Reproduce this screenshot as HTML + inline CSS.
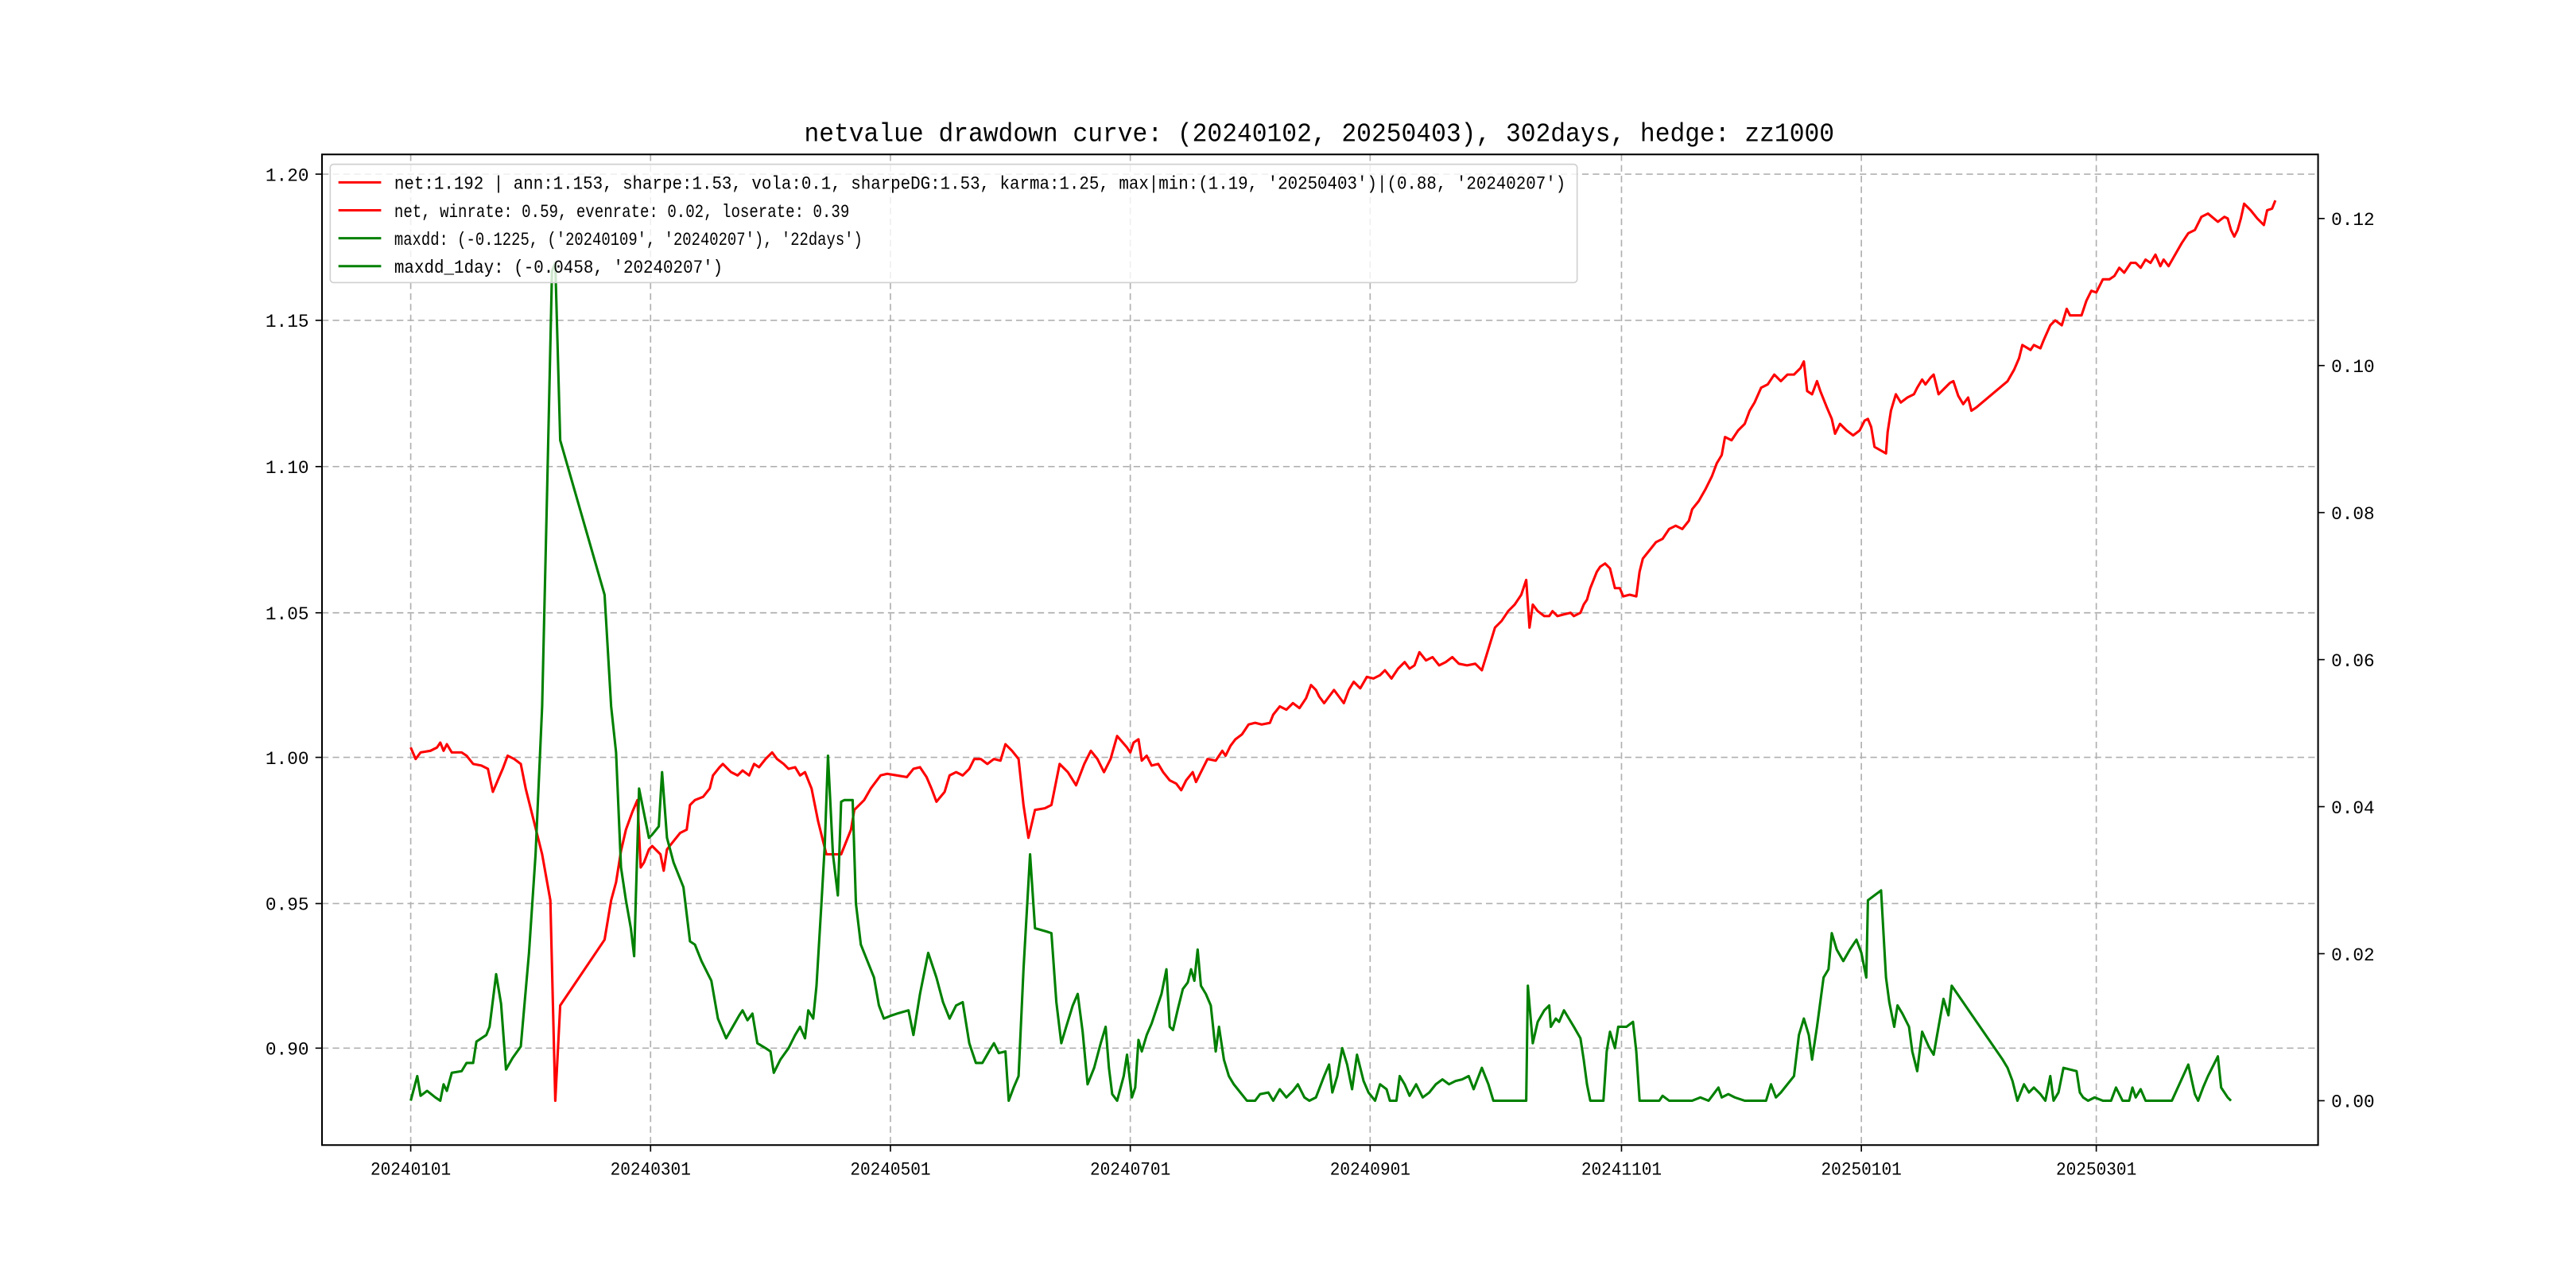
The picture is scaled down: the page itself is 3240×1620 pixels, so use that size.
<!DOCTYPE html>
<html><head><meta charset="utf-8"><style>
html,body{margin:0;padding:0;background:#fff}
svg{display:block}
text{font-family:"Liberation Mono","Noto Sans CJK SC",monospace;fill:#000}
</style></head><body>
<svg width="3240" height="1620" viewBox="0 0 1568 784" xmlns="http://www.w3.org/2000/svg">
<rect width="1568" height="784" fill="#fff"/>
<text x="803" y="86" font-size="16" text-anchor="middle" textLength="627" lengthAdjust="spacingAndGlyphs">netvalue drawdown curve: (20240102, 20250403), 302days, hedge: zz1000</text>
<g stroke="#b0b0b0" stroke-width="0.8" stroke-dasharray="4,2.5" fill="none">
<line x1="250" y1="94" x2="250" y2="697"/><line x1="396" y1="94" x2="396" y2="697"/><line x1="542" y1="94" x2="542" y2="697"/><line x1="688" y1="94" x2="688" y2="697"/><line x1="834" y1="94" x2="834" y2="697"/><line x1="987" y1="94" x2="987" y2="697"/><line x1="1133" y1="94" x2="1133" y2="697"/><line x1="1276" y1="94" x2="1276" y2="697"/>
<line x1="196" y1="106" x2="1411" y2="106"/><line x1="196" y1="195" x2="1411" y2="195"/><line x1="196" y1="284" x2="1411" y2="284"/><line x1="196" y1="373" x2="1411" y2="373"/><line x1="196" y1="461" x2="1411" y2="461"/><line x1="196" y1="550" x2="1411" y2="550"/><line x1="196" y1="638" x2="1411" y2="638"/>
</g>
<polyline fill="none" stroke="#ff0000" stroke-width="1.5" stroke-linejoin="round" points="250,455 253,462 256,458 262,457 266,455 268,452 270,457 272,453 275,458 281,458 284,460 288,465 293,466 297,468 300,482 303,475 306,468 309,460 313,462 317,465 320,480 325,500 330,520 335,548 338,670 341,612 368,572 372,548 375,537 378,518 381,505 385,494 388,487 390,528 392,525 395,517 397,515 400,518 402,520 404,530 406,517 410,512 414,507 418,505 420,490 423,487 428,485 432,480 434,472 438,467 440,465 445,470 449,472 452,469 456,472 459,465 462,467 466,462 470,458 473,462 477,465 480,468 484,467 487,472 490,470 494,480 498,500 503,520 508,520 512,520 518,505 520,493 526,487 530,480 536,472 540,471 546,472 552,473 556,468 560,467 564,473 567,480 570,488 575,482 578,472 582,470 586,472 590,468 593,462 597,462 601,465 605,462 609,463 612,453 616,457 620,462 623,490 626,510 630,493 636,492 640,490 645,465 650,470 655,478 660,465 664,457 668,462 672,470 676,462 680,448 686,455 688,458 690,452 693,450 695,463 698,460 701,466 705,465 708,470 712,475 716,477 719,481 722,475 726,470 728,476 731,470 735,462 740,463 744,457 746,460 749,454 752,450 756,447 760,441 764,440 768,441 773,440 775,435 779,430 783,432 787,428 791,431 795,425 798,417 801,420 803,424 806,428 809,424 812,420 815,424 818,428 821,420 824,415 828,419 832,412 836,413 840,411 843,408 847,413 851,407 855,403 858,407 861,405 864,397 868,402 872,400 876,405 880,403 884,400 888,404 893,405 898,404 902,408 906,395 910,382 914,378 918,372 922,368 926,362 929,353 931,382 933,368 936,372 940,375 943,375 945,372 948,375 952,374 956,373 958,375 962,373 964,368 966,365 968,358 972,348 974,345 977,343 980,346 983,358 986,358 988,363 992,362 996,363 998,348 1000,340 1004,335 1008,330 1012,328 1016,322 1020,320 1024,322 1028,317 1030,310 1034,305 1038,298 1042,290 1045,282 1048,277 1050,266 1054,268 1058,262 1062,258 1065,250 1068,245 1072,236 1076,234 1080,228 1084,232 1088,228 1092,228 1096,224 1098,220 1100,238 1103,240 1106,232 1108,238 1112,248 1115,255 1117,264 1120,258 1124,262 1128,265 1132,262 1135,256 1137,255 1139,260 1141,272 1148,276 1149,263 1151,250 1154,240 1157,245 1161,242 1165,240 1167,236 1170,231 1172,234 1175,230 1177,228 1180,240 1184,236 1187,233 1189,232 1192,241 1195,246 1198,242 1200,250 1203,248 1222,232 1226,225 1229,218 1231,210 1236,213 1238,210 1242,212 1244,207 1248,198 1251,195 1255,198 1258,188 1260,192 1267,192 1270,183 1273,177 1276,178 1280,170 1284,170 1287,168 1290,163 1293,166 1297,160 1300,160 1303,163 1306,158 1309,160 1312,155 1315,162 1317,158 1320,162 1324,155 1328,148 1332,142 1336,140 1340,132 1344,130 1350,135 1354,132 1356,133 1358,140 1360,144 1362,140 1364,133 1366,124 1370,128 1374,133 1378,137 1380,128 1383,127 1385,122"/>
<polyline fill="none" stroke="#008000" stroke-width="1.5" stroke-linejoin="round" points="250,670 254,655 256,667 260,664 265,668 268,670 270,660 272,664 275,653 281,652 284,647 288,647 290,634 296,630 298,625 302,593 305,611 308,651 312,644 317,637 322,580 326,520 330,430 333,300 336,165 338,160 341,268 368,362 372,430 375,458 378,528 381,548 384,565 386,582 389,480 392,495 395,510 397,508 401,503 403,470 406,510 410,525 416,540 420,573 423,575 427,585 433,597 437,620 442,632 446,625 450,618 452,615 455,621 458,617 461,635 466,638 469,640 471,653 475,645 480,638 484,630 487,625 490,632 492,615 495,620 497,600 500,550 502,515 504,460 507,520 510,545 512,488 514,487 519,487 521,550 524,575 528,585 532,595 535,612 538,620 543,618 546,617 553,615 556,630 560,605 565,580 570,595 574,610 578,620 582,612 586,610 590,635 594,647 598,647 602,640 605,635 608,641 612,640 614,670 617,662 620,655 623,590 627,520 630,565 637,567 640,568 643,610 646,635 649,625 653,612 656,605 659,628 662,660 666,650 670,635 673,625 675,650 677,666 680,670 684,655 686,642 689,668 691,662 693,633 695,640 698,630 701,623 703,617 707,605 710,590 712,625 714,627 717,614 720,602 723,598 725,590 727,597 729,578 731,600 734,605 737,612 740,640 742,625 745,645 748,655 751,660 755,665 759,670 764,670 767,666 772,665 775,670 779,663 783,668 787,664 790,660 794,668 797,670 801,668 806,655 809,648 811,665 814,655 817,638 820,648 823,663 826,642 830,658 833,665 837,670 840,660 844,663 846,670 850,670 852,655 855,660 858,667 862,660 866,668 870,665 874,660 878,657 882,660 886,658 890,657 894,655 897,663 902,650 906,660 909,670 929,670 930,600 933,635 936,622 940,615 943,612 944,625 947,620 949,622 952,615 955,620 958,625 962,632 964,645 966,660 968,670 976,670 978,640 980,628 983,638 985,625 990,625 994,622 996,640 998,670 1010,670 1012,667 1016,670 1030,670 1035,668 1040,670 1046,662 1048,668 1052,666 1056,668 1062,670 1075,670 1078,660 1081,668 1084,665 1088,660 1092,655 1095,630 1098,620 1101,630 1103,645 1106,625 1110,595 1113,590 1115,568 1118,578 1122,585 1126,578 1130,572 1133,580 1136,595 1137,548 1141,545 1145,542 1148,595 1150,610 1153,625 1155,612 1158,617 1162,625 1164,640 1167,652 1170,628 1174,637 1177,642 1180,625 1183,608 1186,618 1188,600 1219,645 1222,650 1225,658 1228,670 1232,660 1235,665 1238,662 1242,666 1245,670 1248,655 1250,670 1253,665 1256,650 1264,652 1266,665 1268,668 1271,670 1275,668 1280,670 1285,670 1288,662 1292,670 1296,670 1298,662 1300,668 1303,663 1306,670 1322,670 1332,648 1336,666 1338,670 1341,662 1344,655 1350,643 1352,662 1356,668 1358,670"/>
<rect x="196" y="94" width="1215" height="603" fill="none" stroke="#000" stroke-width="1"/>
<g stroke="#000" stroke-width="0.8">
<line x1="250" y1="697" x2="250" y2="701"/><line x1="396" y1="697" x2="396" y2="701"/><line x1="542" y1="697" x2="542" y2="701"/><line x1="688" y1="697" x2="688" y2="701"/><line x1="834" y1="697" x2="834" y2="701"/><line x1="987" y1="697" x2="987" y2="701"/><line x1="1133" y1="697" x2="1133" y2="701"/><line x1="1276" y1="697" x2="1276" y2="701"/>
<line x1="192" y1="106" x2="196" y2="106"/><line x1="192" y1="195" x2="196" y2="195"/><line x1="192" y1="284" x2="196" y2="284"/><line x1="192" y1="373" x2="196" y2="373"/><line x1="192" y1="461" x2="196" y2="461"/><line x1="192" y1="550" x2="196" y2="550"/><line x1="192" y1="638" x2="196" y2="638"/>
<line x1="1411" y1="670" x2="1415" y2="670"/><line x1="1411" y1="580.5" x2="1415" y2="580.5"/><line x1="1411" y1="491" x2="1415" y2="491"/><line x1="1411" y1="401.5" x2="1415" y2="401.5"/><line x1="1411" y1="312" x2="1415" y2="312"/><line x1="1411" y1="222.5" x2="1415" y2="222.5"/><line x1="1411" y1="133" x2="1415" y2="133"/>
</g>
<g font-size="11" text-anchor="middle">
<text x="250" y="715" textLength="49" lengthAdjust="spacingAndGlyphs">20240101</text>
<text x="396" y="715" textLength="49" lengthAdjust="spacingAndGlyphs">20240301</text>
<text x="542" y="715" textLength="49" lengthAdjust="spacingAndGlyphs">20240501</text>
<text x="688" y="715" textLength="49" lengthAdjust="spacingAndGlyphs">20240701</text>
<text x="834" y="715" textLength="49" lengthAdjust="spacingAndGlyphs">20240901</text>
<text x="987" y="715" textLength="49" lengthAdjust="spacingAndGlyphs">20241101</text>
<text x="1133" y="715" textLength="49" lengthAdjust="spacingAndGlyphs">20250101</text>
<text x="1276" y="715" textLength="49" lengthAdjust="spacingAndGlyphs">20250301</text>
</g>
<g font-size="11" text-anchor="end">
<text x="188" y="110">1.20</text><text x="188" y="199">1.15</text><text x="188" y="288">1.10</text><text x="188" y="377">1.05</text><text x="188" y="465">1.00</text><text x="188" y="554">0.95</text><text x="188" y="642">0.90</text>
</g>
<g font-size="11">
<text x="1419" y="674">0.00</text><text x="1419" y="584.5">0.02</text><text x="1419" y="495">0.04</text><text x="1419" y="405.5">0.06</text><text x="1419" y="316">0.08</text><text x="1419" y="226.5">0.10</text><text x="1419" y="137">0.12</text>
</g>
<rect x="201" y="100" width="759" height="72" rx="2" fill="#fff" fill-opacity="0.8" stroke="#d0d0d0" stroke-width="0.8"/>
<g stroke-width="1.5">
<line x1="206" y1="111" x2="232" y2="111" stroke="#ff0000"/>
<line x1="206" y1="128" x2="232" y2="128" stroke="#ff0000"/>
<line x1="206" y1="145" x2="232" y2="145" stroke="#008000"/>
<line x1="206" y1="162" x2="232" y2="162" stroke="#008000"/>
</g>
<g font-size="11">
<text x="240" y="115" textLength="713" lengthAdjust="spacingAndGlyphs">net:1.192 | ann:1.153, sharpe:1.53, vola:0.1, sharpeDG:1.53, karma:1.25, max|min:(1.19, '20250403')|(0.88, '20240207')</text>
<text x="240" y="132" textLength="277" lengthAdjust="spacingAndGlyphs">net, winrate: 0.59, evenrate: 0.02, loserate: 0.39</text>
<text x="240" y="149" textLength="285" lengthAdjust="spacingAndGlyphs">maxdd: (-0.1225, ('20240109', '20240207'), '22days')</text>
<text x="240" y="166" textLength="200" lengthAdjust="spacingAndGlyphs">maxdd_1day: (-0.0458, '20240207')</text>
</g>
</svg>
</body></html>
